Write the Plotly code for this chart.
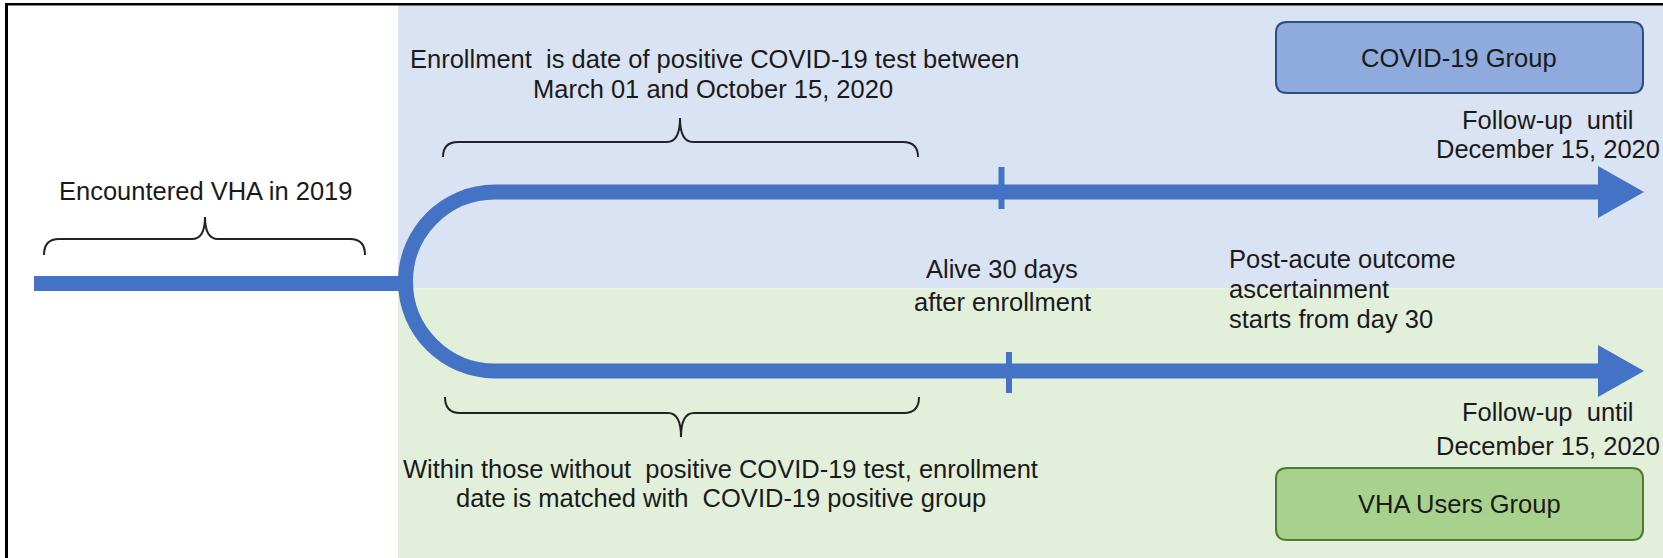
import plotly.graph_objects as go

W, H = 1663, 558

# ---- text content ----
left_label = ["Encountered VHA in 2019"]
top_labels = ["Enrollment\u00a0\u00a0is date of positive COVID-19 test between",
              "March 01 and October 15, 2020"]
bottom_labels = ["Within those without\u00a0\u00a0positive COVID-19 test, enrollment",
                 "date is matched with\u00a0\u00a0COVID-19 positive group"]
alive_labels = ["Alive 30 days", "after enrollment"]
post_labels = ["Post-acute outcome", "ascertainment", "starts from day 30"]
follow_labels = ["Follow-up\u00a0\u00a0until", "December 15, 2020"]
group_names = ["COVID-19 Group", "VHA Users Group"]

# ---- colors ----
LINE = "#4472C4"
BG_BLUE = "#DAE3F3"
BG_GREEN = "#E2EFDA"
BOX_FILL = ["#8FAADC", "#A9D18E"]
BOX_EDGE = ["#2F4D84", "#4E7A32"]
TXT = "#1a1a1a"
FONT = "Liberation Sans, Arial, sans-serif"
FS = 25.5

fig = go.Figure()
shapes = []
ann = []

# backgrounds
shapes.append(dict(type="rect", x0=398, x1=W, y0=5, y1=288.5, fillcolor=BG_BLUE, line_width=0, layer="below"))
shapes.append(dict(type="rect", x0=398, x1=W, y0=288.5, y1=H, fillcolor=BG_GREEN, line_width=0, layer="below"))
# frame
shapes.append(dict(type="line", x0=5, x1=W, y0=4.2, y1=4.2, line=dict(color="black", width=2.6)))
shapes.append(dict(type="line", x0=6.5, x1=6.5, y0=3, y1=H, line=dict(color="black", width=3)))

# main stem
shapes.append(dict(type="line", x0=34, x1=408, y0=283.5, y1=283.5, line=dict(color=LINE, width=15)))

# fork
cx, cy, r = 495, 281.5, 89.5
k = 0.5523 * r
xL = cx - r
top_y, bot_y = cy - r, cy + r
x_end = 1600
fork = (f"M {x_end},{top_y} L {cx},{top_y} "
        f"C {cx - k},{top_y} {xL},{cy - k} {xL},{cy} "
        f"C {xL},{cy + k} {cx - k},{bot_y} {cx},{bot_y} L {x_end},{bot_y}")
shapes.append(dict(type="path", path=fork, line=dict(color=LINE, width=15)))

# arrowheads
for yc in (top_y, bot_y):
    shapes.append(dict(type="path", path=f"M 1598,{yc - 26} L 1644,{yc} L 1598,{yc + 26} Z",
                       fillcolor=LINE, line=dict(color=LINE, width=0)))

# 30-day ticks
shapes.append(dict(type="line", x0=1001.5, x1=1001.5, y0=167, y1=209, line=dict(color=LINE, width=6)))
shapes.append(dict(type="line", x0=1009, x1=1009, y0=352, y1=393, line=dict(color=LINE, width=6)))


def brace(x0, x1, xm, yline, yend, ypeak, rr=15, pk=13):
    return (f"M {x0},{yend} Q {x0},{yline} {x0 + rr},{yline} "
            f"L {xm - pk},{yline} Q {xm},{yline} {xm},{ypeak} "
            f"Q {xm},{yline} {xm + pk},{yline} "
            f"L {x1 - rr},{yline} Q {x1},{yline} {x1},{yend}")


BR = dict(color="#222222", width=2)
shapes.append(dict(type="path", path=brace(44, 365, 205, 239, 255, 217), line=BR))
shapes.append(dict(type="path", path=brace(443, 918, 680, 142, 157, 118), line=BR))
shapes.append(dict(type="path", path=brace(445, 919, 681, 413, 397, 437), line=BR))


def rbox(x0, y0, x1, y1, rr=11):
    return (f"M {x0 + rr},{y0} L {x1 - rr},{y0} Q {x1},{y0} {x1},{y0 + rr} "
            f"L {x1},{y1 - rr} Q {x1},{y1} {x1 - rr},{y1} L {x0 + rr},{y1} "
            f"Q {x0},{y1} {x0},{y1 - rr} L {x0},{y0 + rr} Q {x0},{y0} {x0 + rr},{y0} Z")


box_y = [(22, 93), (468, 540)]
for i, (y0, y1) in enumerate(box_y):
    shapes.append(dict(type="path", path=rbox(1276, y0, 1643, y1), fillcolor=BOX_FILL[i],
                       line=dict(color=BOX_EDGE[i], width=2)))


def label(text, x, y, xanchor="center"):
    ann.append(dict(text=text, x=x, y=y, xref="x", yref="y", showarrow=False,
                    xanchor=xanchor, yanchor="middle",
                    font=dict(family=FONT, size=FS, color=TXT)))


label(left_label[0], 205, 191)
for t, x, y in zip(top_labels, [714, 713], [58.5, 88.5]):
    label(t, x, y)
for t, x, y in zip(bottom_labels, [720, 721], [469, 497.5]):
    label(t, x, y)
for t, y in zip(alive_labels, [268.5, 302]):
    label(t, 1002, y)
for t, y in zip(post_labels, [258.5, 288.5, 319]):
    label(t, 1227, y, "left")
for t, y in zip(follow_labels, [120, 148.5]):
    label(t, 1548, y)
for t, y in zip(follow_labels, [412, 446]):
    label(t, 1548, y)
for t, y in zip(group_names, [58, 504]):
    label(t, 1459, y)

fig.update_layout(
    width=W, height=H,
    margin=dict(l=0, r=0, t=0, b=0),
    paper_bgcolor="white", plot_bgcolor="white",
    xaxis=dict(range=[0, W], visible=False, fixedrange=True),
    yaxis=dict(range=[H, 0], visible=False, fixedrange=True),
    shapes=shapes, annotations=ann, showlegend=False,
)
fig.write_html("out.html", config=dict(displayModeBar=False),
               post_script="document.body.style.margin='0px';document.body.style.overflow='hidden';")
